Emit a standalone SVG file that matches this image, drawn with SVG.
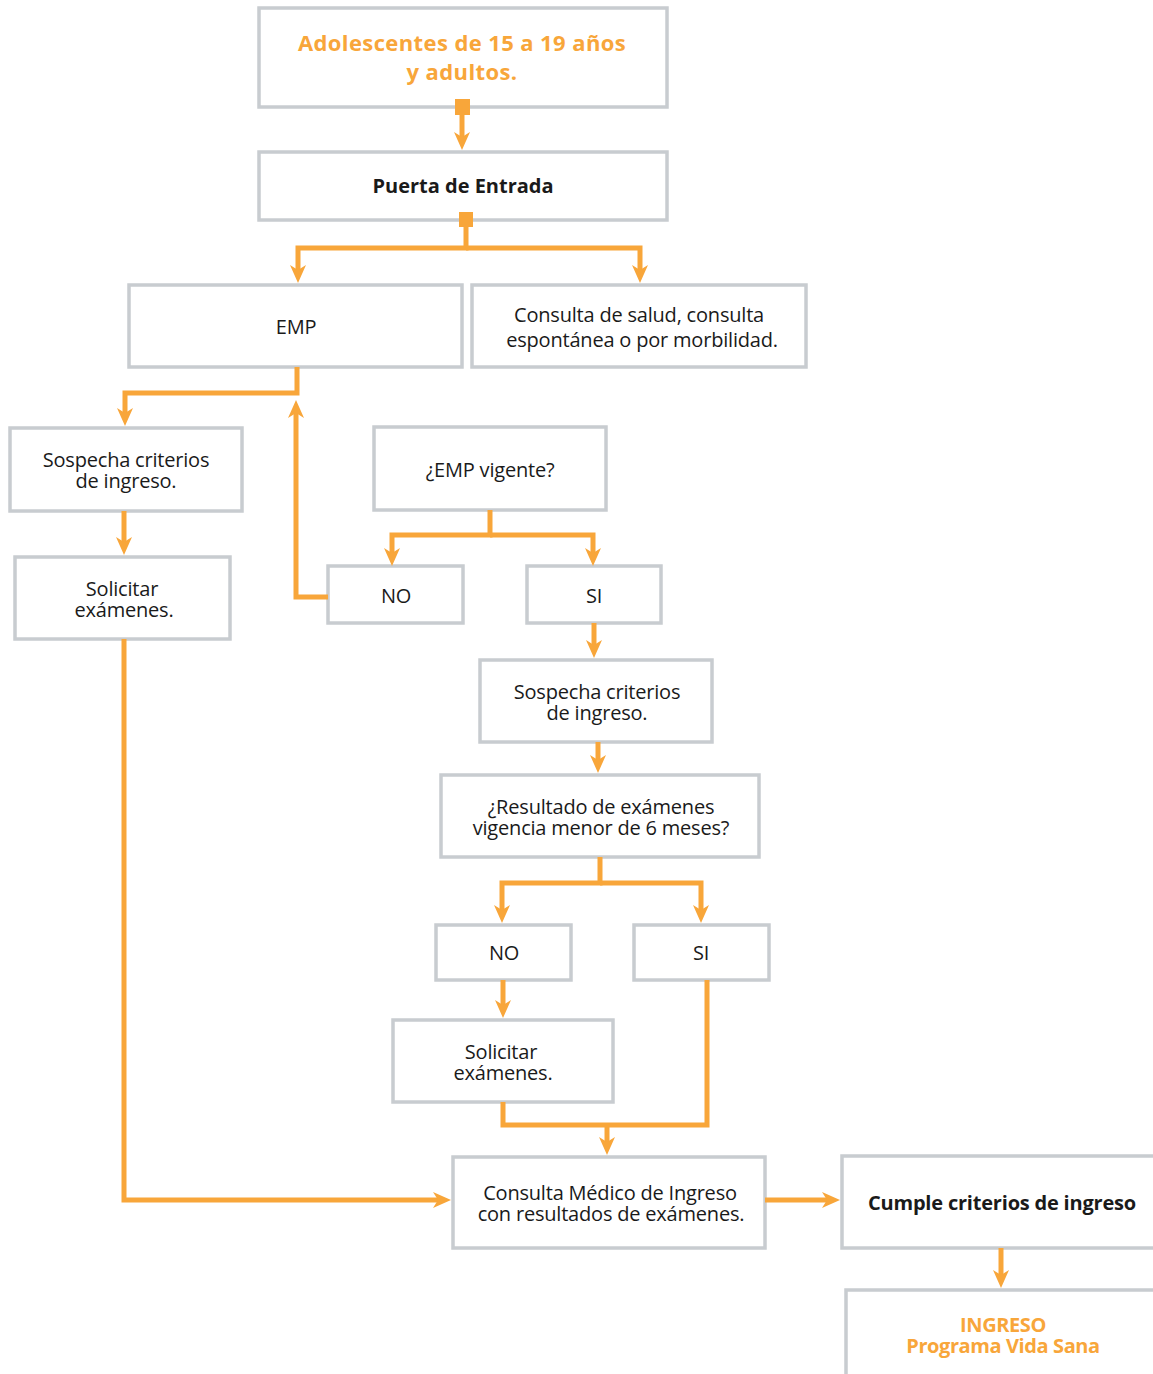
<svg xmlns="http://www.w3.org/2000/svg" width="1153" height="1374" viewBox="0 0 1153 1374">
<style>
.box{fill:#fff;stroke:#c8ccd0;stroke-width:3.5}
.t{font-family:"Open Sans","Noto Sans",sans-serif;font-size:20px;fill:#1a1a1a;text-anchor:middle;letter-spacing:-0.2px}
.b{font-family:"Open Sans","Noto Sans",sans-serif;font-weight:bold;text-anchor:middle;fill:#1a1a1a}
.o{fill:#f8a63a}
.c{fill:none;stroke:#f8a63a;stroke-width:5;stroke-linejoin:miter}
</style>
<defs>
<marker id="ah" markerUnits="userSpaceOnUse" markerWidth="18" markerHeight="18" viewBox="0 0 18 18" refX="6" refY="9" orient="auto">
<path d="M0,1 L18,9 L0,17 L5,9 z" fill="#f8a63a"/>
</marker>
</defs>
<rect width="1153" height="1374" fill="#fff"/>
<g id="n1"><rect class="box" x="259" y="8" width="408" height="99"/>
<text class="b o" font-size="22" letter-spacing="0.4"><tspan x="462" y="51">Adolescentes de 15 a 19 años</tspan><tspan x="462" y="80">y adultos.</tspan></text></g>
<g id="n2"><rect class="box" x="259" y="152" width="408" height="68"/>
<text class="b" font-size="20" x="463" y="193">Puerta de Entrada</text></g>
<g id="n3"><rect class="box" x="129" y="285" width="333" height="82"/>
<text class="t" x="296" y="334">EMP</text></g>
<g id="n4"><rect class="box" x="472" y="285" width="334" height="82"/>
<text class="t"><tspan x="639" y="322">Consulta de salud, consulta</tspan><tspan x="642" y="347">espontánea o por morbilidad.</tspan></text></g>
<g id="n5"><rect class="box" x="10" y="428" width="232" height="83"/>
<text class="t"><tspan x="126" y="467">Sospecha criterios</tspan><tspan x="126" y="488">de ingreso.</tspan></text></g>
<g id="n6"><rect class="box" x="15" y="557" width="215" height="82"/>
<text class="t"><tspan x="122" y="596">Solicitar</tspan><tspan x="124" y="617">exámenes.</tspan></text></g>
<g id="n7"><rect class="box" x="374" y="427" width="232" height="83"/>
<text class="t" x="490" y="477">¿EMP vigente?</text></g>
<g id="n8"><rect class="box" x="328" y="566" width="135" height="57"/>
<text class="t" x="396" y="603">NO</text></g>
<g id="n9"><rect class="box" x="527" y="566" width="134" height="57"/>
<text class="t" x="594" y="603">SI</text></g>
<g id="n10"><rect class="box" x="480" y="660" width="232" height="82"/>
<text class="t"><tspan x="597" y="699">Sospecha criterios</tspan><tspan x="597" y="720">de ingreso.</tspan></text></g>
<g id="n11"><rect class="box" x="441" y="775" width="318" height="82"/>
<text class="t"><tspan x="601" y="814">¿Resultado de exámenes</tspan><tspan x="601" y="835">vigencia menor de 6 meses?</tspan></text></g>
<g id="n12"><rect class="box" x="436" y="925" width="135" height="55"/>
<text class="t" x="504" y="960">NO</text></g>
<g id="n13"><rect class="box" x="634" y="925" width="135" height="55"/>
<text class="t" x="701" y="960">SI</text></g>
<g id="n14"><rect class="box" x="393" y="1020" width="220" height="82"/>
<text class="t"><tspan x="501" y="1059">Solicitar</tspan><tspan x="503" y="1080">exámenes.</tspan></text></g>
<g id="n15"><rect class="box" x="453" y="1157" width="312" height="91"/>
<text class="t"><tspan x="610" y="1200">Consulta Médico de Ingreso</tspan><tspan x="611" y="1221">con resultados de exámenes.</tspan></text></g>
<g id="n16"><rect class="box" x="842" y="1156" width="330" height="92"/>
<text class="b" font-size="20" letter-spacing="-0.2" x="1002" y="1210">Cumple criterios de ingreso</text></g>
<g id="n17"><rect class="box" x="846" y="1290" width="330" height="100"/>
<text class="b o" font-size="20" letter-spacing="-0.4"><tspan x="1003" y="1332">INGRESO</tspan><tspan x="1003" y="1353">Programa Vida Sana</tspan></text></g>
<g id="connectors">
<rect x="455" y="99" width="15" height="16" fill="#f8a63a"/>
<rect x="459" y="212" width="14" height="15" fill="#f8a63a"/>
<path class="c" d="M462,112 V138" marker-end="url(#ah)"/>
<path class="c" d="M466,225 V248 H298 V271" marker-end="url(#ah)"/>
<path class="c" d="M466,248 H640 V271" marker-end="url(#ah)"/>
<path class="c" d="M297,367 V393 H125 V414" marker-end="url(#ah)"/>
<path class="c" d="M124,511 V543" marker-end="url(#ah)"/>
<path class="c" d="M328,597 H296 V412" marker-end="url(#ah)"/>
<path class="c" d="M490,510 V535 H392 V554" marker-end="url(#ah)"/>
<path class="c" d="M490,535 H593 V554" marker-end="url(#ah)"/>
<path class="c" d="M594,623 V646" marker-end="url(#ah)"/>
<path class="c" d="M598,742 V761" marker-end="url(#ah)"/>
<path class="c" d="M600,857 V883 H502 V911" marker-end="url(#ah)"/>
<path class="c" d="M600,883 H701 V911" marker-end="url(#ah)"/>
<path class="c" d="M503,980 V1006" marker-end="url(#ah)"/>
<path class="c" d="M503,1102 V1125 H707 V980"/>
<path class="c" d="M607,1125 V1143" marker-end="url(#ah)"/>
<path class="c" d="M124,639 V1200 H439" marker-end="url(#ah)"/>
<path class="c" d="M765,1200 H828" marker-end="url(#ah)"/>
<path class="c" d="M1001,1248 V1276" marker-end="url(#ah)"/>
</g>
</svg>
